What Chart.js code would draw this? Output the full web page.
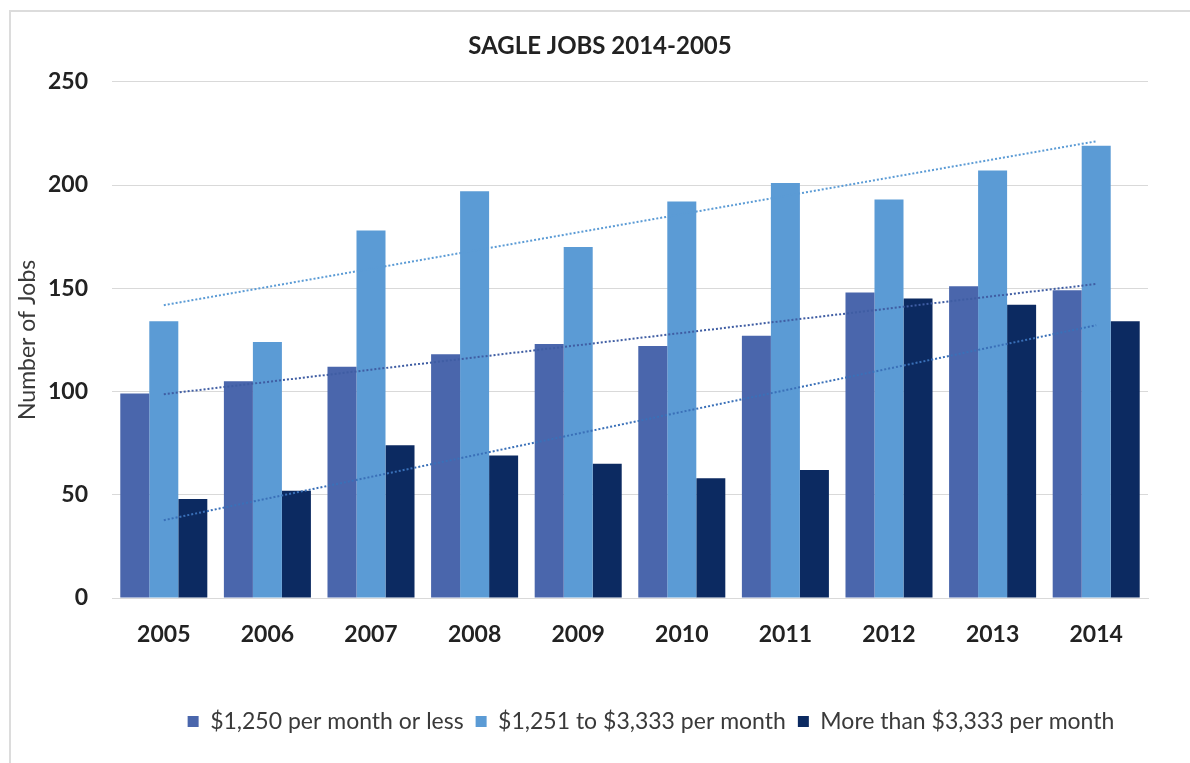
<!DOCTYPE html>
<html>
<head>
<meta charset="utf-8">
<script src="https://cdn.jsdelivr.net/npm/chart.js@4/dist/chart.umd.min.js"></script>
<style>
    html, body { margin: 0; padding: 0; background: #fff; overflow: hidden; }
    #frame { position: absolute; left: 9px; top: 10px; width: 1200px; height: 780px; border: 2px solid #dcdcdc; }
    #wrap { position: absolute; left: 0; top: 0; width: 1190px; height: 763px; }
</style>
</head>
<body>
<div id="frame"></div>
<div id="wrap"><canvas id="chart"></canvas></div>
<script>
const years = ["2005", "2006", "2007", "2008", "2009", "2010", "2011", "2012", "2013", "2014"]
const lowPay = [99, 105, 112, 118, 123, 122, 127, 148, 151, 149]
const midPay = [134, 124, 178, 197, 170, 192, 201, 193, 207, 219]
const highPay = [48, 52, 74, 69, 65, 58, 62, 145, 142, 134]
const yTicks = [0, 50, 100, 150, 200, 250]

const colors = ['#4a66ac', '#5b9bd5', '#0c2a61']
const trendColors = ['#3f5da3', '#5b9bd5', '#3a70b8']

// linear trendline (least squares) like the one Excel draws
function trend(values) {
    const n = values.length
    const mx = (n - 1) / 2
    const my = values.reduce((a, b) => a + b, 0) / n
    let sxy = 0, sxx = 0
    values.forEach((v, i) => { sxy += (i - mx) * (v - my); sxx += (i - mx) * (i - mx) })
    const slope = sxy / sxx
    return values.map((v, i) => my + slope * (i - mx))
}

const font = "Lato, 'Open Sans', sans-serif"

function barSet(label, data, color) {
    return {
        type: 'bar', label: label, data: data,
        backgroundColor: color, borderWidth: 0,
        barPercentage: 1.0, categoryPercentage: 0.84, order: 2
    }
}

function trendSet(data, color) {
    return {
        type: 'line', label: 'trend', data: trend(data),
        borderColor: color, borderWidth: 2, borderDash: [2, 2],
        pointRadius: 0, fill: false, order: 1
    }
}

// title and legend sit a little right of the canvas centre in the original
function nudge(box, dx) {
    if (!box || box._nudged) return
    const draw = box.draw.bind(box)
    box.draw = area => {
        const ctx = box.ctx
        ctx.save()
        ctx.translate(dx, 0)
        draw(area)
        ctx.restore()
    }
    box._nudged = true
}

const nudgeBoxes = {
    id: 'nudgeBoxes',
    beforeDraw(chart) {
        nudge(chart.titleBlock, 26)
        nudge(chart.legend, 77)
    }
}

new Chart(document.getElementById('chart'), {
    type: 'bar',
    data: {
        labels: years,
        datasets: [
            barSet('$1,250 per month or less', lowPay, colors[0]),
            barSet('$1,251 to $3,333 per month', midPay, colors[1]),
            barSet('More than $3,333 per month', highPay, colors[2]),
            trendSet(lowPay, trendColors[0]),
            trendSet(midPay, trendColors[1]),
            trendSet(highPay, trendColors[2])
        ]
    },
    plugins: [nudgeBoxes],
    options: {
        responsive: true,
        maintainAspectRatio: false,
        animation: false,
        layout: { padding: { left: 0, right: 42, top: 0, bottom: 20 } },
        plugins: {
            title: {
                display: true,
                text: 'SAGLE JOBS 2014-2005',
                color: '#222',
                font: { family: font, size: 24, weight: 'bold' },
                padding: { top: 32, bottom: 21 }
            },
            legend: {
                position: 'bottom',
                labels: {
                    filter: item => item.datasetIndex < 3,
                    color: '#3a3a3a',
                    font: { family: font, size: 23 },
                    boxWidth: 11, boxHeight: 11, padding: 12
                }
            },
            tooltip: { enabled: false }
        },
        scales: {
            x: {
                afterFit: axis => { axis.height = 100 },
                grid: { display: false, drawTicks: false },
                border: { color: '#d9d9d9', width: 1 },
                ticks: {
                    color: '#222', padding: 23,
                    font: { family: font, size: 23, weight: 'bold' }
                }
            },
            y: {
                min: 0, max: 250,
                afterBuildTicks: axis => { axis.ticks = yTicks.map(v => ({ value: v })) },
                afterFit: axis => { axis.width = 112 },
                grid: { color: '#d9d9d9', drawTicks: false },
                border: { display: false },
                ticks: {
                    color: '#222', padding: 24,
                    font: { family: font, size: 23, weight: 'bold' }
                },
                title: {
                    display: true, text: 'Number of Jobs', color: '#3a3a3a',
                    font: { family: font, size: 23 }, padding: { top: 14, bottom: 0 }
                }
            }
        }
    }
})
</script>
</body>
</html>
